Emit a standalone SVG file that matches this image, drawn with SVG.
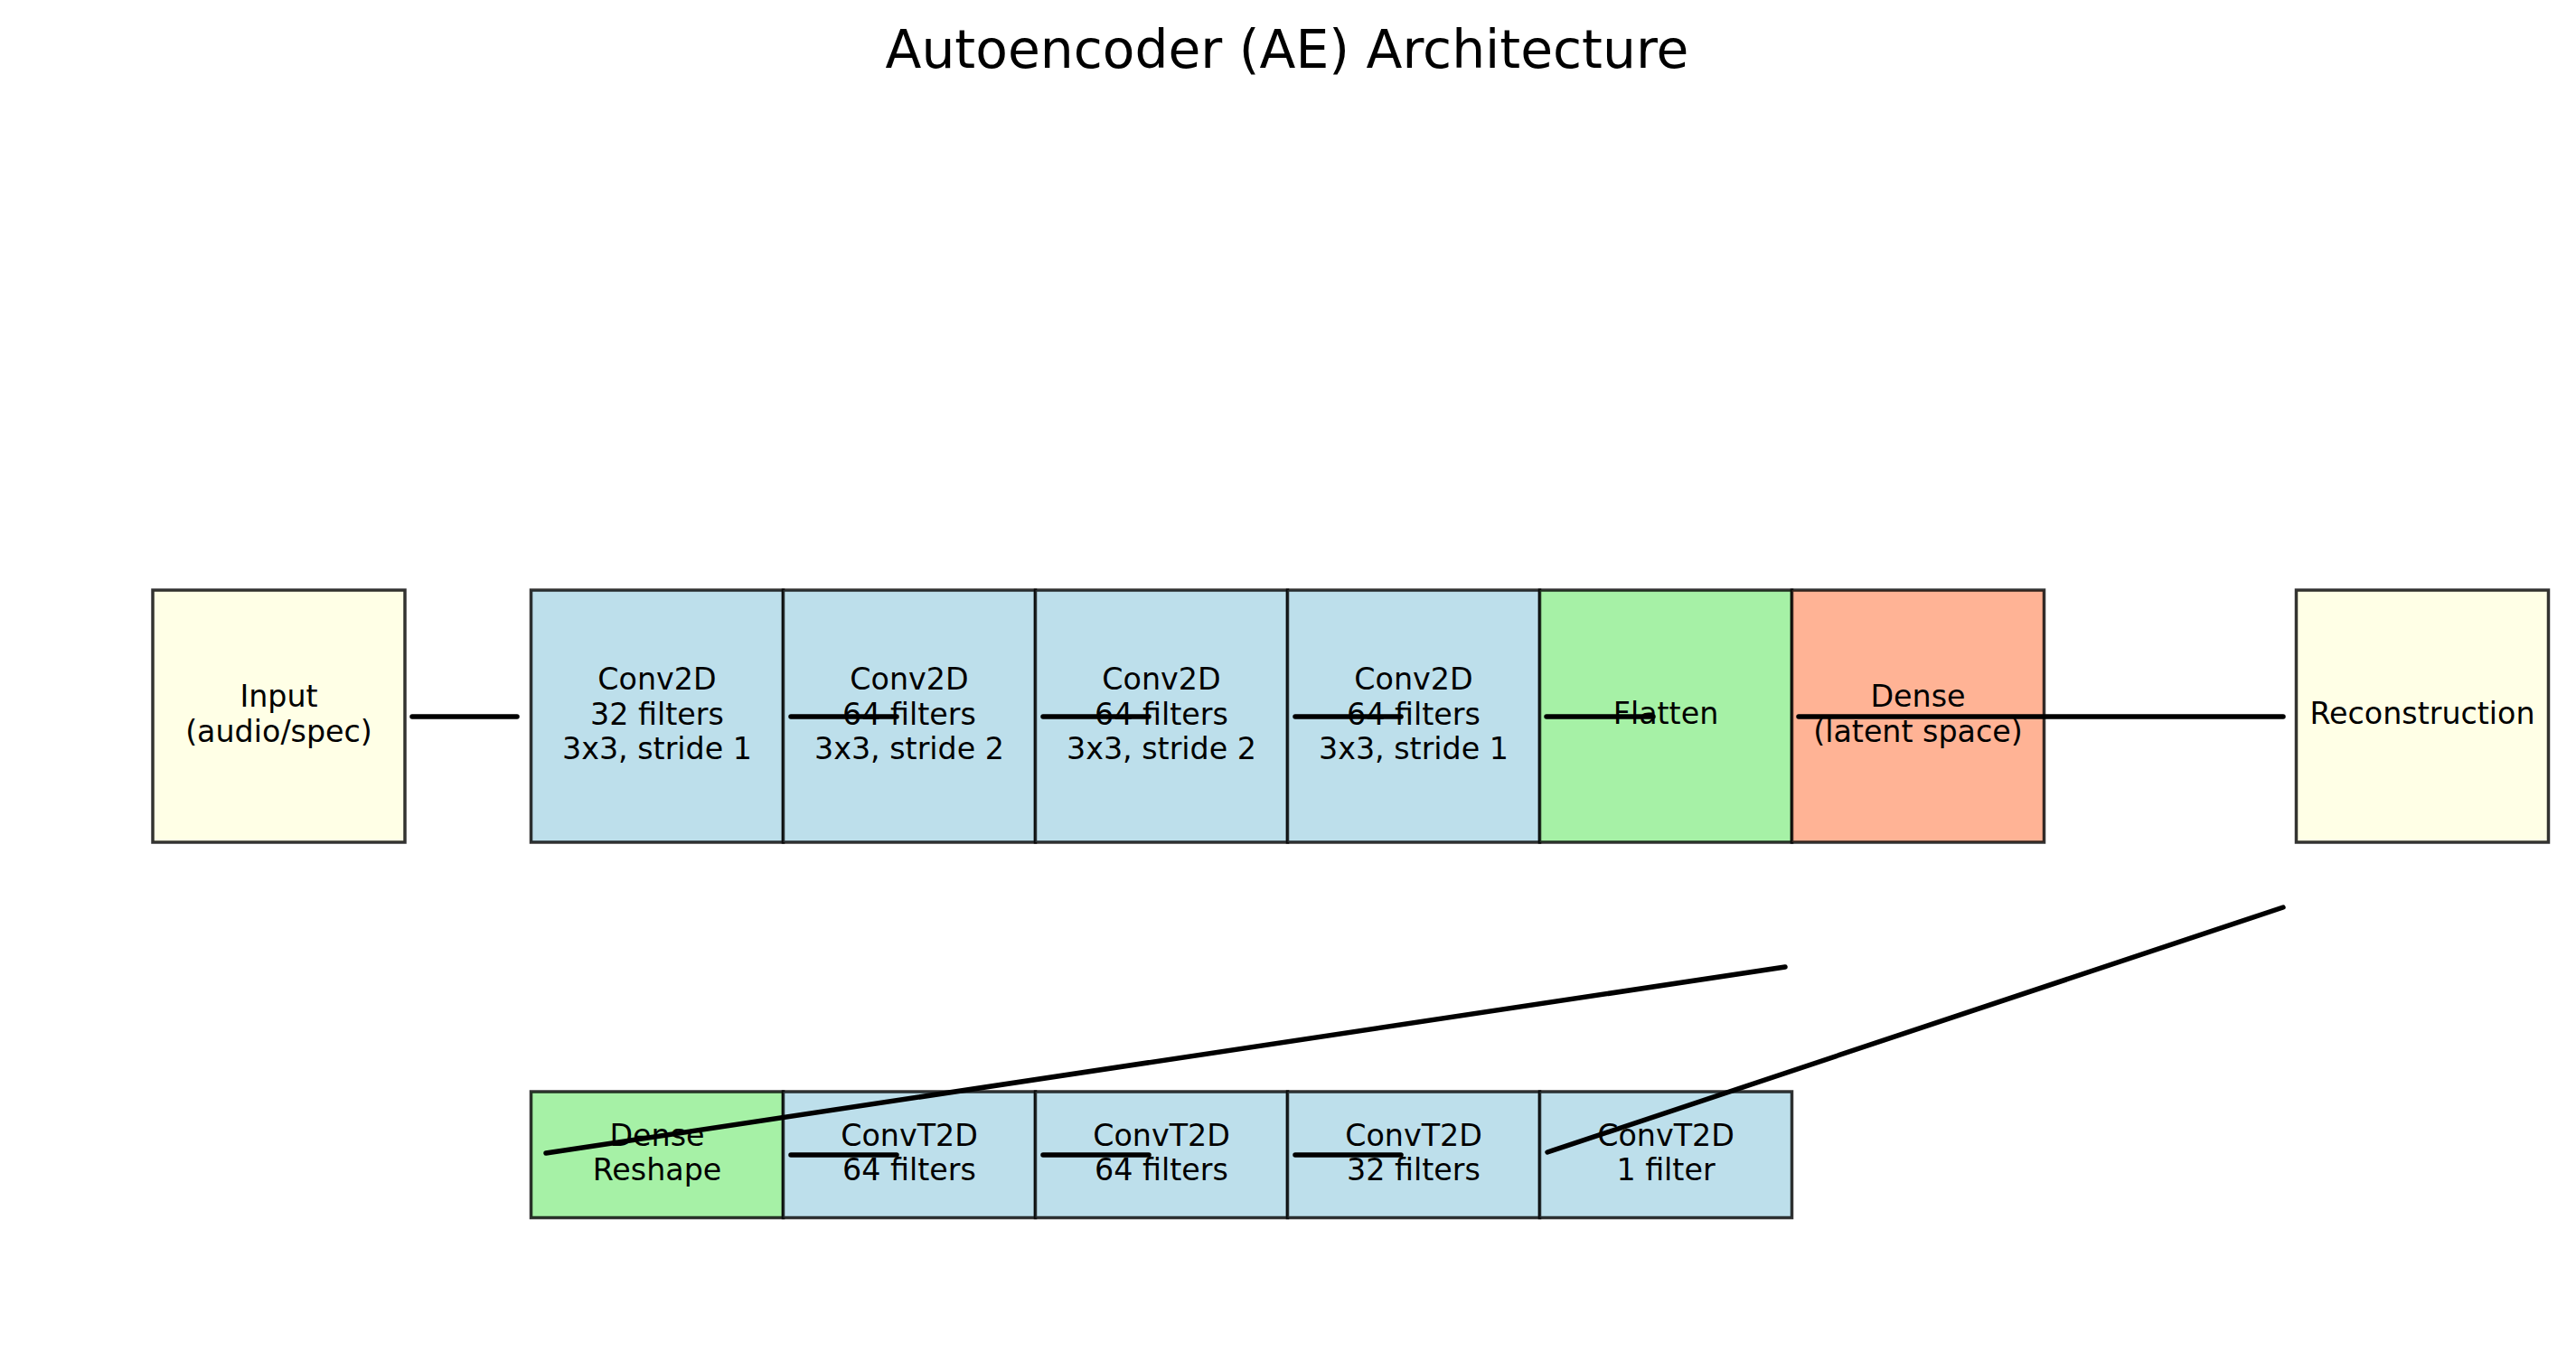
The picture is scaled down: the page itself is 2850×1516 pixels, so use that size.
<svg xmlns="http://www.w3.org/2000/svg" width="2850" height="1516" viewBox="0 0 2850 1516">
<style>
  .box { stroke: #000; stroke-opacity: 0.8; stroke-width: 3.5; }
  .yellow { fill: #FFFFE6; }
  .blue { fill: #BDDFEB; }
  .green { fill: #A6F1A6; }
  .salmon { fill: #FFB395; }
  .lbl { font-family: "DejaVu Sans", sans-serif; font-size: 33.3px; fill: #000; text-anchor: middle; }
  .title { font-family: "DejaVu Sans", sans-serif; font-size: 58.3px; fill: #000; text-anchor: middle; }
  .conn line { stroke: #000; stroke-width: 5.5; stroke-linecap: round; fill: none; }
</style>
<rect x="0" y="0" width="2850" height="1516" fill="#fff"/>
<text class="title" x="1424" y="75">Autoencoder (AE) Architecture</text>

<g id="input"><rect class="box yellow" x="169" y="653" width="279" height="279"/>
<text class="lbl"><tspan x="308.5" y="782.3">Input</tspan><tspan x="308.5" y="820.8">(audio/spec)</tspan></text></g>

<g id="conv1"><rect class="box blue" x="587.5" y="653" width="279" height="279"/>
<text class="lbl"><tspan x="727" y="763.3">Conv2D</tspan><tspan x="727" y="801.7">32 filters</tspan><tspan x="727" y="840">3x3, stride 1</tspan></text></g>

<g id="conv2"><rect class="box blue" x="866.5" y="653" width="279" height="279"/>
<text class="lbl"><tspan x="1006" y="763.3">Conv2D</tspan><tspan x="1006" y="801.7">64 filters</tspan><tspan x="1006" y="840">3x3, stride 2</tspan></text></g>

<g id="conv3"><rect class="box blue" x="1145.5" y="653" width="279" height="279"/>
<text class="lbl"><tspan x="1285" y="763.3">Conv2D</tspan><tspan x="1285" y="801.7">64 filters</tspan><tspan x="1285" y="840">3x3, stride 2</tspan></text></g>

<g id="conv4"><rect class="box blue" x="1424.5" y="653" width="279" height="279"/>
<text class="lbl"><tspan x="1564" y="763.3">Conv2D</tspan><tspan x="1564" y="801.7">64 filters</tspan><tspan x="1564" y="840">3x3, stride 1</tspan></text></g>

<g id="flatten"><rect class="box green" x="1703.5" y="653" width="279" height="279"/>
<text class="lbl" x="1843" y="800.7">Flatten</text></g>

<g id="dense"><rect class="box salmon" x="1982.5" y="653" width="279" height="279"/>
<text class="lbl"><tspan x="2122" y="782.3">Dense</tspan><tspan x="2122" y="820.8">(latent space)</tspan></text></g>

<g id="reconstruction"><rect class="box yellow" x="2540.5" y="653" width="279" height="279"/>
<text class="lbl" x="2680" y="800.7">Reconstruction</text></g>

<g id="dense_reshape"><rect class="box green" x="587.5" y="1208" width="279" height="139.5"/>
<text class="lbl"><tspan x="727" y="1267.5">Dense</tspan><tspan x="727" y="1306">Reshape</tspan></text></g>

<g id="convt1"><rect class="box blue" x="866.5" y="1208" width="279" height="139.5"/>
<text class="lbl"><tspan x="1006" y="1267.5">ConvT2D</tspan><tspan x="1006" y="1306">64 filters</tspan></text></g>

<g id="convt2"><rect class="box blue" x="1145.5" y="1208" width="279" height="139.5"/>
<text class="lbl"><tspan x="1285" y="1267.5">ConvT2D</tspan><tspan x="1285" y="1306">64 filters</tspan></text></g>

<g id="convt3"><rect class="box blue" x="1424.5" y="1208" width="279" height="139.5"/>
<text class="lbl"><tspan x="1564" y="1267.5">ConvT2D</tspan><tspan x="1564" y="1306">32 filters</tspan></text></g>

<g id="convt4"><rect class="box blue" x="1703.5" y="1208" width="279" height="139.5"/>
<text class="lbl"><tspan x="1843" y="1267.5">ConvT2D</tspan><tspan x="1843" y="1306">1 filter</tspan></text></g>

<g id="connectors" class="conn">
  <line x1="456" y1="793" x2="572" y2="793"/>
  <line x1="875" y1="793" x2="992" y2="793"/>
  <line x1="1154" y1="793" x2="1271" y2="793"/>
  <line x1="1433" y1="793" x2="1550" y2="793"/>
  <line x1="1711" y1="793" x2="1829" y2="793"/>
  <line x1="1990" y1="793" x2="2526" y2="793"/>
  <line x1="1975" y1="1070" x2="604" y2="1276"/>
  <line x1="875" y1="1278" x2="992" y2="1278"/>
  <line x1="1154" y1="1278" x2="1271" y2="1278"/>
  <line x1="1433" y1="1278" x2="1550" y2="1278"/>
  <line x1="2526" y1="1004" x2="1712" y2="1275"/>
</g>
</svg>
